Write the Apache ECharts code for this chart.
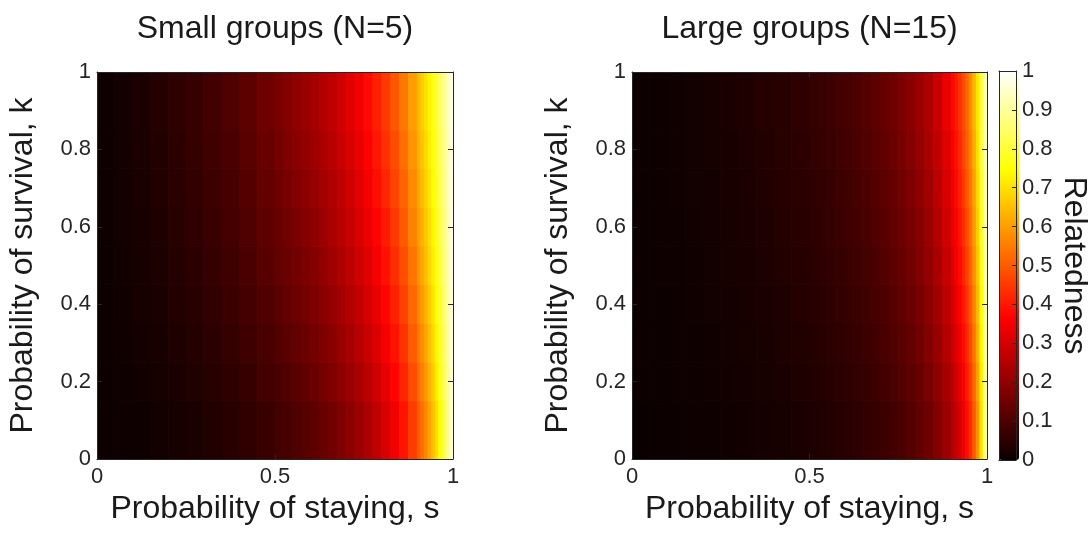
<!DOCTYPE html>
<html>
<head>
<meta charset="utf-8">
<script src="https://cdn.jsdelivr.net/npm/echarts@6/dist/echarts.min.js"></script>
<style>
html,body{margin:0;padding:0;background:#ffffff;}
#chart{width:1091px;height:533px;}
</style>
</head>
<body>
<div id="chart"></div>
<script>
// ---- data ----
// cell edges along "probability of staying, s"
const sEdges = [0,0.05,0.1,0.15,0.2,0.25,0.3,0.35,0.4,0.45,0.5,
  0.525,0.55,0.575,0.6,0.625,0.65,0.675,0.7,0.725,0.75,0.775,0.8,0.825,0.85,0.875,0.9,
  0.91,0.92,0.93,0.94,0.95,0.96,0.97,0.98,0.99,1.0];
// cell edges along "probability of survival, k" (bands centred on k = 0.1 ... 0.9)
const kEdges = [0,0.15,0.25,0.35,0.45,0.55,0.65,0.75,0.85,1.0];

// relatedness, small groups (N=5); one array per k band (bottom to top)
const smallK01 = [0.001,0.004,0.007,0.012,0.018,0.025,0.033,0.043,0.055,0.069,
  0.082,0.091,0.102,0.113,0.126,0.140,0.156,0.173,0.193,0.216,0.242,0.271,0.306,0.347,0.395,0.454,
  0.502,0.534,0.569,0.607,0.649,0.697,0.750,0.809,0.878,0.956];
const smallK02 = [0.002,0.006,0.011,0.017,0.024,0.032,0.042,0.053,0.066,0.082,
  0.096,0.106,0.117,0.129,0.143,0.158,0.174,0.193,0.214,0.237,0.264,0.294,0.330,0.371,0.420,0.478,
  0.527,0.558,0.592,0.629,0.670,0.716,0.766,0.823,0.887,0.960];
const smallK03 = [0.002,0.008,0.014,0.021,0.029,0.039,0.050,0.062,0.077,0.094,
  0.108,0.119,0.131,0.144,0.158,0.174,0.191,0.211,0.232,0.257,0.284,0.315,0.352,0.393,0.442,0.501,
  0.549,0.579,0.612,0.649,0.688,0.732,0.781,0.835,0.895,0.963];
const smallK04 = [0.003,0.009,0.017,0.025,0.034,0.045,0.057,0.070,0.086,0.104,
  0.120,0.132,0.144,0.158,0.173,0.189,0.207,0.227,0.250,0.275,0.303,0.335,0.372,0.414,0.463,0.521,
  0.568,0.598,0.631,0.666,0.705,0.747,0.794,0.845,0.902,0.965];
const smallK05 = [0.003,0.011,0.019,0.028,0.039,0.050,0.063,0.078,0.095,0.114,
  0.131,0.143,0.156,0.170,0.186,0.203,0.222,0.243,0.266,0.292,0.320,0.353,0.390,0.433,0.482,0.540,
  0.586,0.616,0.648,0.682,0.720,0.760,0.805,0.854,0.908,0.968];
const smallK06 = [0.004,0.012,0.021,0.031,0.042,0.055,0.069,0.085,0.103,0.123,
  0.141,0.153,0.167,0.182,0.198,0.216,0.236,0.257,0.281,0.307,0.337,0.370,0.407,0.450,0.499,0.557,
  0.603,0.632,0.663,0.696,0.733,0.772,0.815,0.862,0.913,0.970];
const smallK07 = [0.004,0.013,0.023,0.034,0.046,0.059,0.074,0.091,0.110,0.132,
  0.150,0.163,0.178,0.193,0.210,0.228,0.248,0.270,0.295,0.322,0.352,0.385,0.423,0.466,0.515,0.572,
  0.618,0.646,0.677,0.709,0.745,0.783,0.824,0.869,0.918,0.971];
const smallK08 = [0.005,0.014,0.025,0.036,0.049,0.063,0.079,0.097,0.117,0.139,
  0.158,0.172,0.187,0.203,0.221,0.240,0.260,0.283,0.308,0.335,0.366,0.400,0.438,0.481,0.530,0.586,
  0.631,0.659,0.689,0.721,0.756,0.792,0.832,0.875,0.922,0.973];
const smallK09 = [0.005,0.015,0.026,0.039,0.052,0.067,0.084,0.102,0.123,0.147,
  0.166,0.181,0.196,0.213,0.231,0.250,0.271,0.295,0.320,0.348,0.379,0.413,0.451,0.495,0.544,0.600,
  0.644,0.672,0.701,0.732,0.765,0.801,0.840,0.881,0.926,0.974];

// relatedness, large groups (N=15)
const largeK01 = [0.000,0.001,0.002,0.004,0.006,0.008,0.011,0.015,0.019,0.024,
  0.029,0.032,0.036,0.041,0.046,0.051,0.058,0.065,0.074,0.084,0.096,0.110,0.128,0.150,0.179,0.217,
  0.252,0.276,0.305,0.340,0.382,0.433,0.499,0.586,0.705,0.879];
const largeK02 = [0.001,0.002,0.004,0.006,0.008,0.011,0.014,0.018,0.023,0.029,
  0.034,0.038,0.042,0.047,0.053,0.059,0.066,0.074,0.083,0.094,0.107,0.122,0.141,0.164,0.194,0.234,
  0.271,0.296,0.326,0.361,0.404,0.456,0.522,0.608,0.723,0.888];
const largeK03 = [0.001,0.003,0.005,0.007,0.010,0.013,0.017,0.022,0.027,0.033,
  0.039,0.043,0.048,0.053,0.059,0.066,0.073,0.082,0.092,0.103,0.117,0.133,0.153,0.178,0.209,0.251,
  0.288,0.315,0.345,0.381,0.424,0.477,0.543,0.627,0.739,0.896];
const largeK04 = [0.001,0.003,0.006,0.008,0.012,0.015,0.020,0.025,0.030,0.037,
  0.043,0.048,0.053,0.059,0.065,0.072,0.080,0.089,0.100,0.112,0.127,0.144,0.165,0.190,0.223,0.266,
  0.305,0.332,0.363,0.400,0.443,0.496,0.562,0.645,0.754,0.903];
const largeK05 = [0.001,0.004,0.006,0.010,0.013,0.017,0.022,0.027,0.034,0.041,
  0.048,0.053,0.058,0.064,0.071,0.078,0.087,0.097,0.108,0.121,0.136,0.154,0.176,0.203,0.237,0.281,
  0.321,0.348,0.380,0.417,0.461,0.514,0.579,0.660,0.766,0.909];
const largeK06 = [0.001,0.004,0.007,0.011,0.015,0.019,0.024,0.030,0.037,0.045,
  0.052,0.057,0.063,0.069,0.076,0.084,0.093,0.103,0.115,0.129,0.145,0.163,0.186,0.214,0.249,0.295,
  0.336,0.364,0.396,0.433,0.477,0.530,0.595,0.675,0.778,0.914];
const largeK07 = [0.001,0.004,0.008,0.012,0.016,0.021,0.026,0.032,0.040,0.048,
  0.055,0.061,0.067,0.074,0.081,0.090,0.099,0.110,0.122,0.136,0.153,0.173,0.196,0.225,0.262,0.308,
  0.350,0.378,0.411,0.449,0.493,0.546,0.609,0.688,0.788,0.918];
const largeK08 = [0.002,0.005,0.008,0.012,0.017,0.022,0.028,0.035,0.042,0.051,
  0.059,0.065,0.071,0.078,0.086,0.095,0.105,0.116,0.129,0.144,0.161,0.182,0.206,0.236,0.273,0.321,
  0.363,0.392,0.425,0.463,0.507,0.560,0.623,0.701,0.798,0.923];
const largeK09 = [0.002,0.005,0.009,0.013,0.018,0.023,0.030,0.037,0.045,0.054,
  0.062,0.068,0.075,0.083,0.091,0.100,0.110,0.122,0.136,0.151,0.169,0.190,0.215,0.246,0.284,0.333,
  0.376,0.405,0.439,0.477,0.521,0.573,0.636,0.712,0.806,0.926];

const smallGroups = [smallK01, smallK02, smallK03, smallK04, smallK05, smallK06, smallK07, smallK08, smallK09];
const largeGroups = [largeK01, largeK02, largeK03, largeK04, largeK05, largeK06, largeK07, largeK08, largeK09];

const panelTitles = ['Small groups (N=5)', 'Large groups (N=15)'];
const xTicks = [0, 0.5, 1];
const yTicks = [0, 0.2, 0.4, 0.6, 0.8, 1];
const cbTicks = [0, 0.1, 0.2, 0.3, 0.4, 0.5, 0.6, 0.7, 0.8, 0.9, 1];

// ---- build ----
function cells(mat) {
  const out = [];
  for (let j = 0; j < kEdges.length - 1; j++) {
    for (let i = 0; i < sEdges.length - 1; i++) {
      out.push([sEdges[i], sEdges[i + 1], kEdges[j], kEdges[j + 1], mat[j][i]]);
    }
  }
  return out;
}

// MATLAB "hot" colormap (64 levels)
const hot = [];
for (let i = 1; i <= 64; i++) {
  const r = Math.min(1, i / 24);
  const g = Math.min(1, Math.max(0, (i - 24) / 24));
  const b = Math.min(1, Math.max(0, (i - 48) / 16));
  hot.push('rgb(' + Math.round(r * 255) + ',' + Math.round(g * 255) + ',' + Math.round(b * 255) + ')');
}

const FONT = "'Liberation Sans', Arial, Helvetica, sans-serif";
const AX = '#262626';
const TXT = '#1a1a1a';

function renderCell(params, api) {
  const a = api.coord([api.value(0), api.value(2)]);
  const b = api.coord([api.value(1), api.value(3)]);
  const c = api.visual('color');
  return {
    type: 'rect',
    shape: { x: a[0], y: b[1], width: b[0] - a[0], height: a[1] - b[1] },
    style: { fill: c, stroke: c, lineWidth: 1 }
  };
}

const grids = [
  { left: 97, top: 72, width: 356, height: 387 },
  { left: 632, top: 72, width: 355, height: 387 },
  { left: 999, top: 71, width: 20, height: 389 }
];

const xAxes = [];
const yAxes = [];
const step = (arr) => arr[1] - arr[0];
for (let g = 0; g < 2; g++) {
  xAxes.push({
    type: 'value', gridIndex: g, min: xTicks[0], max: xTicks[xTicks.length - 1], interval: step(xTicks),
    position: 'bottom', z: 10,
    axisLine: { show: true, onZero: false, lineStyle: { color: AX, width: 1 } },
    axisTick: { show: true, inside: true, length: 5, lineStyle: { color: AX } },
    axisLabel: { fontSize: 22, color: AX, margin: 7, fontFamily: FONT },
    splitLine: { show: false },
    name: 'Probability of staying, s', nameLocation: 'middle', nameGap: 24,
    nameTextStyle: { fontSize: 32, color: TXT, fontFamily: FONT }
  });
  xAxes.push({
    type: 'value', gridIndex: g, min: 0, max: 1, interval: step(xTicks), position: 'top', z: 10,
    axisLine: { show: true, onZero: false, lineStyle: { color: AX, width: 1 } },
    axisTick: { show: true, inside: true, length: 5, lineStyle: { color: AX } },
    axisLabel: { show: false }, splitLine: { show: false }
  });
  yAxes.push({
    type: 'value', gridIndex: g, min: yTicks[0], max: yTicks[yTicks.length - 1], interval: step(yTicks),
    position: 'left', z: 10,
    axisLine: { show: true, onZero: false, lineStyle: { color: AX, width: 1 } },
    axisTick: { show: true, inside: true, length: 5, lineStyle: { color: AX } },
    axisLabel: { fontSize: 22, color: AX, margin: 6, fontFamily: FONT },
    splitLine: { show: false },
    name: 'Probability of survival, k', nameLocation: 'middle', nameGap: 58,
    nameTextStyle: { fontSize: 32, color: TXT, fontFamily: FONT }
  });
  yAxes.push({
    type: 'value', gridIndex: g, min: 0, max: 1, interval: step(yTicks), position: 'right', z: 10,
    axisLine: { show: true, onZero: false, lineStyle: { color: AX, width: 1 } },
    axisTick: { show: true, inside: true, length: 5, lineStyle: { color: AX } },
    axisLabel: { show: false }, splitLine: { show: false }
  });
}
// colorbar frame + ticks
xAxes.push({ type: 'value', gridIndex: 2, min: 0, max: 1, position: 'bottom', z: 10,
  axisLine: { show: true, onZero: false, lineStyle: { color: AX, width: 1 } },
  axisTick: { show: false }, axisLabel: { show: false }, splitLine: { show: false } });
xAxes.push({ type: 'value', gridIndex: 2, min: 0, max: 1, position: 'top', z: 10,
  axisLine: { show: true, onZero: false, lineStyle: { color: AX, width: 1 } },
  axisTick: { show: false }, axisLabel: { show: false }, splitLine: { show: false } });
yAxes.push({ type: 'value', gridIndex: 2, min: 0, max: 1, position: 'left', z: 10,
  axisLine: { show: true, onZero: false, lineStyle: { color: AX, width: 1 } },
  axisTick: { show: false }, axisLabel: { show: false }, splitLine: { show: false } });
yAxes.push({ type: 'value', gridIndex: 2, min: cbTicks[0], max: cbTicks[cbTicks.length - 1],
  interval: step(cbTicks), position: 'right', z: 10,
  axisLine: { show: true, onZero: false, lineStyle: { color: AX, width: 1 } },
  axisTick: { show: true, inside: true, length: 4, lineStyle: { color: AX } },
  axisLabel: { fontSize: 22, color: AX, margin: 6, fontFamily: FONT },
  splitLine: { show: false },
  name: 'Relatedness', nameLocation: 'middle', nameRotate: -90, nameGap: 42,
  nameTextStyle: { fontSize: 32, color: TXT, fontFamily: FONT } });

const option = {
  backgroundColor: '#ffffff',
  animation: false,
  title: [
    { text: panelTitles[0], left: 275, top: 13, textAlign: 'center', padding: 0,
      textStyle: { fontSize: 32, fontWeight: 'normal', color: TXT, fontFamily: FONT } },
    { text: panelTitles[1], left: 809.5, top: 13, textAlign: 'center', padding: 0,
      textStyle: { fontSize: 32, fontWeight: 'normal', color: TXT, fontFamily: FONT } }
  ],
  grid: grids,
  xAxis: xAxes,
  yAxis: yAxes,
  visualMap: {
    type: 'continuous', min: 0, max: 1, dimension: 4, seriesIndex: [0, 1],
    calculable: false, left: 999, top: 71, itemWidth: 20, itemHeight: 389, padding: 0,
    inRange: { color: hot }, hoverLink: false
  },
  series: [
    { type: 'custom', name: panelTitles[0], coordinateSystem: 'cartesian2d', xAxisIndex: 0, yAxisIndex: 0,
      encode: { x: [0, 1], y: [2, 3] }, renderItem: renderCell, clip: true, data: cells(smallGroups) },
    { type: 'custom', name: panelTitles[1], coordinateSystem: 'cartesian2d', xAxisIndex: 2, yAxisIndex: 2,
      encode: { x: [0, 1], y: [2, 3] }, renderItem: renderCell, clip: true, data: cells(largeGroups) }
  ]
};

const chart = echarts.init(document.getElementById('chart'), null, { renderer: 'canvas' });
chart.setOption(option);
</script>
</body>
</html>
